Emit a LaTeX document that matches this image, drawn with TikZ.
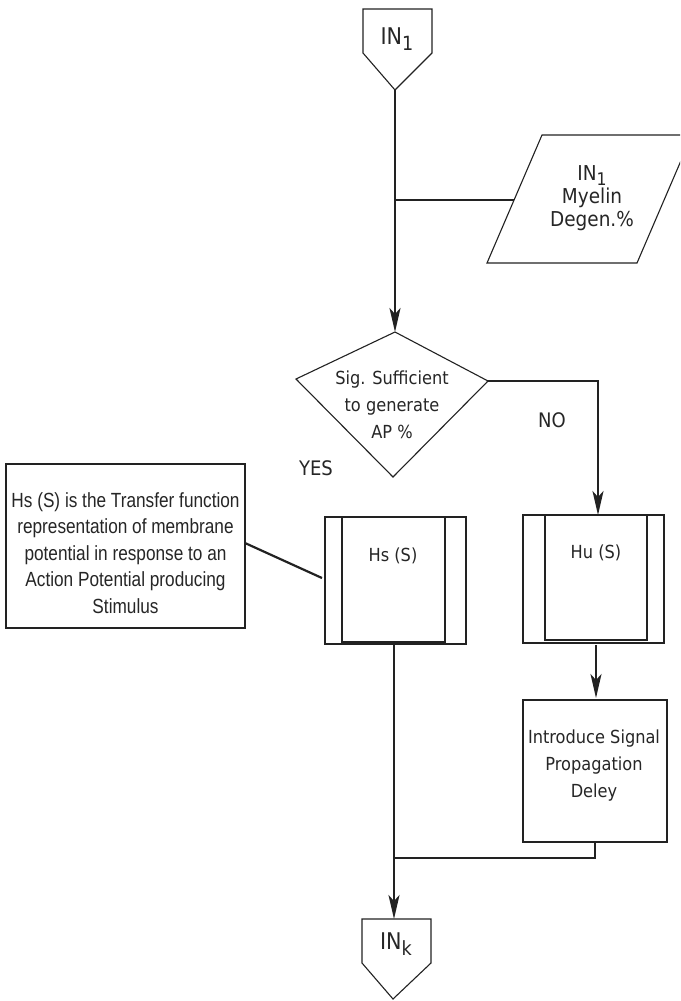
\documentclass[tikz,border=0pt]{standalone}
\usepackage{fontspec}
\setmainfont{DejaVu Sans}[FakeStretch=0.9]
\newfontfamily\narrowfont{Liberation Sans}[FakeStretch=0.84]
\usetikzlibrary{arrows.meta}
\definecolor{ink}{HTML}{222222}
\definecolor{txtc}{HTML}{262626}
\newcommand\mysub[1]{\raisebox{-0.45ex}{\scalebox{0.85}{#1}}}
\begin{document}
\begin{tikzpicture}[x=1pt,y=-1pt,
  line/.style={line width=2.2pt, draw=ink},
  shp/.style={line width=1.1pt, draw=ink},
  arr/.style={line, -{Stealth[length=24pt,width=11pt,inset=6pt]}},
  txt/.style={text=txtc, font=\fontsize{18}{27}\selectfont, align=center, inner sep=0pt},
  lbl/.style={text=txtc, font=\fontsize{20}{22}\selectfont, inner sep=0pt},
  notetxt/.style={text=txtc, font=\narrowfont\fontsize{20.5}{26.5}\selectfont, align=center, inner sep=0pt}]
\useasboundingbox (0,0) rectangle (680,1001);
\clip (0,0) rectangle (680,1001);
\fill[white] (0,0) rectangle (680,1001);

% top terminal IN1
\draw[shp] (363,9) -- (432,9) -- (432,53) -- (395,90) -- (363,53) -- cycle;
\coordinate (in1tip) at (395,90);
\node[txt, font=\fontsize{23}{25}\selectfont] (in1) at (397,39) {IN\mysub{1}};

% parallelogram input
\draw[shp] (542,135) -- (692,135) -- (637,263) -- (487,263) -- cycle;
\coordinate (parl) at (514,200);
\node[txt, font=\fontsize{20.5}{23}\selectfont] (partxt) at (592,198) {IN\mysub{1}\\Myelin\\Degen.\%};

% decision kite
\coordinate (dtop) at (395,332);
\coordinate (dright) at (488,381);
\coordinate (dbot) at (393,477);
\coordinate (dleft) at (296,379);
\draw[shp] (dtop) -- (dright) -- (dbot) -- (dleft) -- cycle;
\node[txt] (dtxt) at (392,405) {Sig. Sufficient\\to generate\\AP \%};

% main vertical with branch
\coordinate (br) at (395,200);
\draw[arr] (in1tip) -- (dtop);
\draw[line] (br) -- (parl);

\node[lbl] (no) at (552,420) {NO};
\node[lbl] (yes) at (316,468) {YES};

% Hu box
\coordinate (hutop) at (598,515);
\node[shp, rectangle, minimum width=141pt, minimum height=128pt, inner sep=0pt] (hu) at (593.5,579) {};
\draw[shp] (545,515) -- (545,640) -- (647,640) -- (647,515);
\node[txt] (hutxt) at (596,553) {Hu (S)};
\draw[arr] (dright) -| (hutop);

% Hs box
\node[shp, rectangle, minimum width=141pt, minimum height=127pt, inner sep=0pt] (hs) at (395.5,580.5) {};
\draw[shp] (342,517) -- (342,642) -- (445,642) -- (445,517);
\node[txt] (hstxt) at (393,556) {Hs (S)};

% note box
\node[shp, rectangle, minimum width=239pt, minimum height=164pt, inner sep=0pt] (note) at (125.5,546) {};
\node[notetxt] (notetxt) at (125.5,553) {Hs (S) is the Transfer function\\representation of membrane\\potential in response to an\\Action Potential producing\\Stimulus};
\coordinate (notec) at (245,543);
\coordinate (hsc) at (322,578);
\draw[line] (notec) -- (hsc);

% Introduce delay box
\node[shp, rectangle, minimum width=144pt, minimum height=142pt, inner sep=0pt] (delay) at (595,771) {};
\node[txt] (delaytxt) at (594,766) {Introduce Signal\\Propagation\\Deley};
\coordinate (hubot) at (596,645);
\coordinate (delaytop) at (596,698);
\draw[arr] (hubot) -- (delaytop);

% bottom terminal INk
\draw[shp] (362,919) -- (431,919) -- (431,963) -- (393,999) -- (362,963) -- cycle;
\coordinate (inktop) at (394,919);
\node[txt, font=\fontsize{23}{25}\selectfont] (ink) at (396,944) {IN\mysub{k}};

% merge
\coordinate (hsbot) at (394,645);
\coordinate (delbot) at (595,843);
\coordinate (merge) at (394,858);
\draw[arr] (hsbot) -- (inktop);
\draw[line] (delbot) |- (merge);
\end{tikzpicture}
\end{document}
